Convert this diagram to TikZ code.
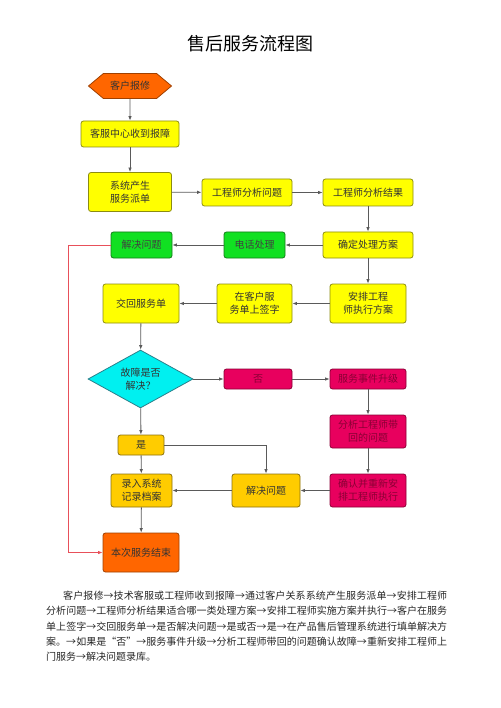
\documentclass[tikz,border=0pt]{standalone}
\usepackage{fontspec}
\setmainfont{Noto Sans CJK SC}
\usetikzlibrary{shapes.geometric,shapes.symbols,arrows.meta}
\XeTeXlinebreaklocale "zh"
\XeTeXlinebreakskip=0pt plus 1pt

\definecolor{chengse}{HTML}{FF6600}
\definecolor{chengbian}{HTML}{A04000}
\definecolor{huangse}{HTML}{FFFF00}
\definecolor{huangbian}{HTML}{8C8C10}
\definecolor{lvse}{HTML}{11E022}
\definecolor{lvbian}{HTML}{157A1A}
\definecolor{qingse}{HTML}{00F0F0}
\definecolor{qingbian}{HTML}{2A7F8A}
\definecolor{hongse}{HTML}{E8005E}
\definecolor{hongbian}{HTML}{8A0035}
\definecolor{jinse}{HTML}{FFCC00}
\definecolor{jinbian}{HTML}{8A7010}
\definecolor{xianse}{HTML}{5A5A5A}
\definecolor{hongxian}{HTML}{E8505A}

\tikzset{
  kuang/.style={draw=huangbian, fill=huangse, rounded corners=2.5pt, line width=0.8pt,
    inner sep=0pt, align=center, font=\fontsize{10}{13}\selectfont, text=black!80},
  lvkuang/.style={kuang, draw=lvbian, fill=lvse, text=black!75},
  hongkuang/.style={kuang, draw=hongbian, fill=hongse, text=hongbian},
  jinkuang/.style={kuang, draw=jinbian, fill=jinse},
  chengkuang/.style={kuang, draw=chengbian, fill=chengse},
  liucheng/.style={draw=xianse, line width=0.8pt, -{Latex[length=4.5pt,width=3.5pt]}},
}

\begin{document}
\begin{tikzpicture}[x=1pt,y=-1pt]
  \useasboundingbox (0,0) rectangle (500,708);

  \node[font=\fontsize{18}{20}\selectfont] (biaoti) at (250,44) {售后服务流程图};

  % left column
  \node[chengkuang, signal, signal to=west and east, signal pointer angle=80,
    rounded corners=0pt, minimum width=83pt, minimum height=25pt] (baoxiu) at (130,86) {客户报修};
  \node[kuang, minimum width=98pt, minimum height=26pt] (kefu) at (130,134) {客服中心收到报障};
  \node[kuang, minimum width=83pt, minimum height=39pt] (paidan) at (130,192) {系统产生\\服务派单};
  \node[kuang, minimum width=90pt, minimum height=27pt] (fenxi) at (247,192.5) {工程师分析问题};
  \node[kuang, minimum width=90pt, minimum height=27pt] (jieguo) at (368,192.5) {工程师分析结果};

  \node[kuang, minimum width=90pt, minimum height=26pt] (fangan) at (368,245) {确定处理方案};
  \node[lvkuang, minimum width=61pt, minimum height=26pt] (dianhua) at (254.5,245) {电话处理};
  \node[lvkuang, minimum width=61pt, minimum height=26pt] (jiejue) at (141.5,245) {解决问题};

  \node[kuang, minimum width=76pt, minimum height=39pt] (anpai) at (368,303.5) {安排工程\\师执行方案};
  \node[kuang, minimum width=75pt, minimum height=39pt] (qianzi) at (254.5,303.5) {在客户服\\务单上签字};
  \node[kuang, minimum width=76pt, minimum height=39pt] (jiaohui) at (141,303.5) {交回服务单};

  \node[kuang, diamond, draw=qingbian, fill=qingse, rounded corners=0pt, aspect=1.8,
    minimum width=105pt, minimum height=58pt] (guzhang) at (140.5,379) {故障是否\\解决？};
  \node[hongkuang, minimum width=68pt, minimum height=20pt] (fou) at (258,379) {否};
  \node[hongkuang, minimum width=76pt, minimum height=20pt] (shengji) at (368,379) {服务事件升级};
  \node[hongkuang, minimum width=76pt, minimum height=33pt] (daihui) at (368,431.5) {分析工程师带\\回的问题};
  \node[hongkuang, minimum width=76pt, minimum height=33pt] (queren) at (368,490.5) {确认并重新安\\排工程师执行};

  \node[jinkuang, minimum width=46pt, minimum height=20pt] (shi) at (141,445) {是};
  \node[jinkuang, minimum width=68pt, minimum height=33pt] (jiejueer) at (266,490.5) {解决问题};
  \node[jinkuang, minimum width=61pt, minimum height=33pt] (luru) at (141.5,490.5) {录入系统\\记录档案};
  \node[chengkuang, minimum width=76pt, minimum height=39pt] (jieshu) at (141,552.5) {本次服务结束};

  % connectors
  \draw[liucheng] (baoxiu) -- (kefu);
  \draw[liucheng] (kefu) -- (paidan);
  \draw[liucheng] (paidan) -- (fenxi);
  \draw[liucheng] (fenxi) -- (jieguo);
  \draw[liucheng] (jieguo) -- (fangan);
  \draw[liucheng] (fangan) -- (dianhua);
  \draw[liucheng] (dianhua) -- (jiejue);
  \draw[liucheng] (fangan) -- (anpai);
  \draw[liucheng] (anpai) -- (qianzi);
  \draw[liucheng] (qianzi) -- (jiaohui);
  \draw[liucheng] (jiaohui) -- (guzhang);
  \draw[liucheng] (guzhang) -- (fou);
  \draw[liucheng] (fou) -- (shengji);
  \draw[liucheng] (shengji) -- (daihui);
  \draw[liucheng] (daihui) -- (queren);
  \draw[liucheng] (queren) -- (jiejueer);
  \draw[liucheng] (jiejueer) -- (luru);
  \draw[liucheng] (guzhang) -- (shi);
  \draw[liucheng] (shi) -- (luru);
  \draw[liucheng] (shi.east) -| (jiejueer.north);
  \draw[liucheng] (luru) -- (jieshu);

  \coordinate (zhuanjiao) at (68,245);
  \draw[liucheng, draw=hongxian, -{Latex[length=4.5pt,width=3.5pt,fill=hongxian]}]
    (jiejue.west) -- (zhuanjiao) |- (jieshu.west);

  % description text
  \node[anchor=north west, inner sep=0pt, text width=401pt, align=justify,
    font=\fontsize{10}{15.2}\selectfont, text=black!85] (shuoming) at (46,591)
    {\hspace*{17pt}客户报修→技术客服或工程师收到报障→通过客户关系系统产生服务派单→安排工程师\linebreak
     分析问题→工程师分析结果适合哪一类处理方案→安排工程师实施方案并执行→客户在服务\linebreak
     单上签字→交回服务单→是否解决问题→是或否→是→在产品售后管理系统进行填单解决方\linebreak
     案。→如果是“否”→服务事件升级→分析工程师带回的问题确认故障→重新安排工程师上\linebreak
     门服务→解决问题录库。};
\end{tikzpicture}
\end{document}
